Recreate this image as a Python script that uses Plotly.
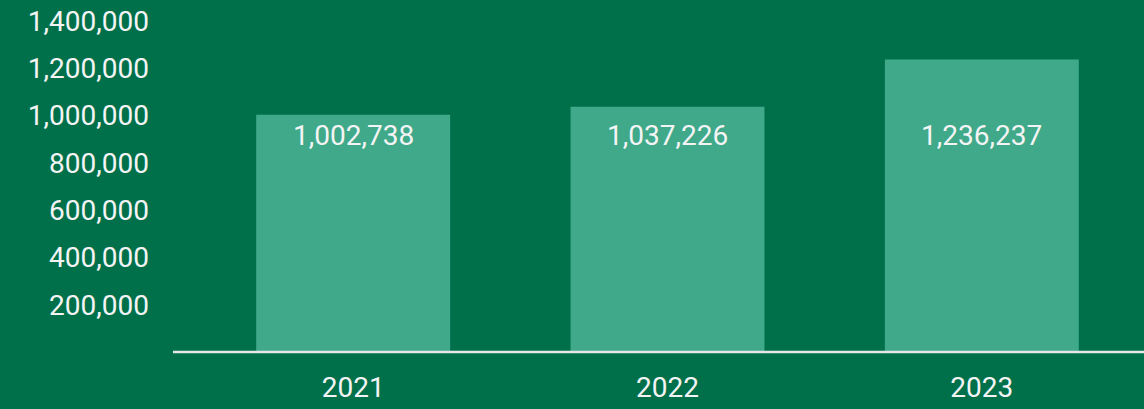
import plotly.graph_objects as go

years = ["2021", "2022", "2023"]
values = [1002738, 1037226, 1236237]
tick_vals = [200000, 400000, 600000, 800000, 1000000, 1200000, 1400000]

bg = "#00704A"
bar_color = "#3FA98A"
font = dict(family="Roboto", size=28, color="#F4F4F4")

fig = go.Figure(
    go.Bar(
        x=years,
        y=values,
        marker=dict(color=bar_color, line=dict(width=0)),
        hoverinfo="skip",
    )
)

# value labels all sit on one row near the top of the bars
# (category index as x, numeric-looking strings get read as numbers)
for i, v in enumerate(values):
    fig.add_annotation(
        x=i, y=0.641, yref="paper", text=f"{v:,}", showarrow=False,
        font=font,
    )

# baseline runs a bit past the plot area on the left
fig.add_shape(
    type="line", xref="paper", yref="paper",
    x0=-0.0244, x1=1.006, y0=0, y1=0,
    line=dict(color="#E6E6E6", width=2.5),
    layer="above",
)

fig.update_layout(
    width=1144,
    height=409,
    margin=dict(l=196, r=5, t=10, b=56),
    paper_bgcolor=bg,
    plot_bgcolor=bg,
    bargap=0.383,
    showlegend=False,
    font=font,
    xaxis=dict(
        type="category",
        range=[-0.5, len(years) - 0.5],
        showgrid=False,
        showline=False,
        zeroline=False,
        ticks="",
        ticklabelstandoff=16,
        tickfont=font,
    ),
    yaxis=dict(
        range=[0, 1429000],
        tickvals=tick_vals,
        tickformat=",",
        showgrid=False,
        zeroline=False,
        showline=False,
        ticks="",
        ticklabelstandoff=46,
        tickfont=font,
    ),
)

fig.write_html(
    "out.html",
    config={"displayModeBar": False},
    post_script="document.body.style.margin='0';",
)
